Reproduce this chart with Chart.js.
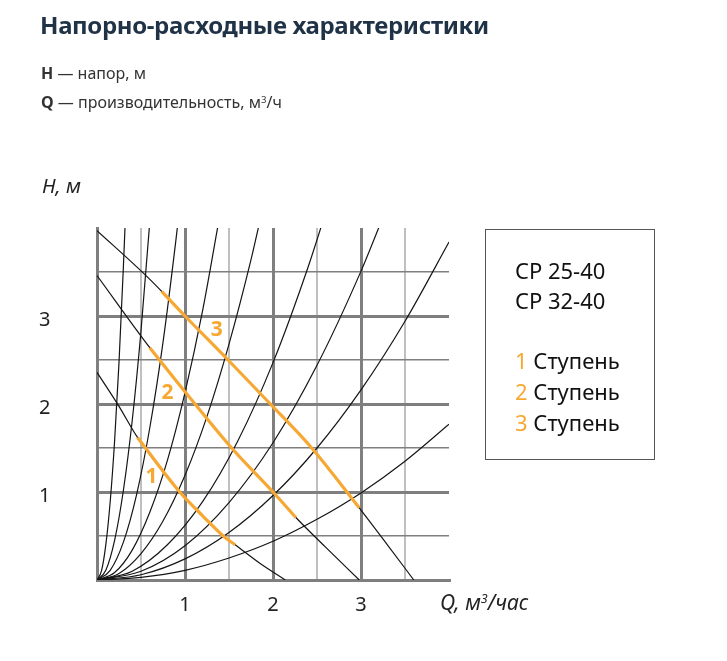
<!DOCTYPE html>
<html><head><meta charset="utf-8">
<script src="https://cdn.jsdelivr.net/npm/chart.js@4.4.1/dist/chart.umd.min.js"></script>
<style>
html,body{margin:0;padding:0;background:#fff;width:727px;height:661px;overflow:hidden;font-family:"Noto Sans",sans-serif;}
#wrap{position:relative;width:727px;height:661px;}
#c{position:absolute;left:0;top:0;width:727px;height:661px;}
.t{position:absolute;white-space:nowrap;line-height:1;}
sup{font-size:60%;vertical-align:0;position:relative;top:-0.55em;}
#legend{position:absolute;left:485px;top:229px;width:168px;height:229px;border:1.5px solid #555;}
#legend .r{position:absolute;left:29px;font-size:22px;color:#111;line-height:1;}
#legend .o{color:#F7A832;}
</style></head><body>
<div id="wrap">
<canvas id="c" width="727" height="661"></canvas>
<div class="t" style="left:40px;top:13px;font-weight:700;font-size:24px;letter-spacing:-0.35px;color:#1f3246;">Напорно-расходные характеристики</div>
<div class="t" style="left:41px;top:65px;font-size:16px;color:#333;"><b>H</b> — напор, м</div>
<div class="t" style="left:41px;top:94px;font-size:16px;color:#333;"><b>Q</b> — производительность, м<sup>3</sup>/ч</div>
<div class="t" style="left:42px;top:176px;font-size:20px;font-style:italic;color:#222;">H, м</div>
<div class="t" style="left:440px;top:592px;font-size:21px;font-style:italic;color:#222;">Q, м<sup>3</sup>/час</div>
<div id="legend">
  <div class="r" style="top:29px;">CP 25-40</div>
  <div class="r" style="top:59px;">CP 32-40</div>
  <div class="r" style="top:119px;"><span class="o">1</span> Ступень</div>
  <div class="r" style="top:150px;"><span class="o">2</span> Ступень</div>
  <div class="r" style="top:181px;"><span class="o">3</span> Ступень</div>
</div>
</div>
<script>
// ---- data (Q in m3/h, H in m) ----
const qTickLabels = [1, 2, 3];
const hTickLabels = [1, 2, 3];
const stageNames = ['1', '2', '3'];

// system (pipe) curves from origin
const sysA = [[0,0],[0.05,0.10],[0.1,0.40],[0.15,0.89],[0.2,1.58],[0.25,2.47],[0.3,3.56],[0.33,4.30]];
const sysB = [[0,0],[0.1,0.11],[0.2,0.45],[0.3,1.02],[0.4,1.81],[0.5,2.83],[0.6,4.07],[0.63,4.48]];
const sysC = [[0,0],[0.15,0.11],[0.3,0.43],[0.45,0.97],[0.6,1.73],[0.75,2.70],[0.9,3.89],[0.95,4.33]];
const sysD = [[0,0],[0.2,0.085],[0.4,0.34],[0.6,0.77],[0.8,1.36],[1.0,2.13],[1.2,3.06],[1.4,4.17]];
const sysE = [[0,0],[0.25,0.074],[0.5,0.30],[0.75,0.67],[1.0,1.19],[1.25,1.86],[1.5,2.68],[1.75,3.64],[1.9,4.30]];
const sysF = [[0,0],[0.4,0.10],[0.8,0.40],[1.2,0.89],[1.6,1.58],[2.0,2.47],[2.4,3.56],[2.65,4.34]];
const sysG = [[0,0],[0.5,0.10],[1.0,0.39],[1.5,0.88],[2.0,1.56],[2.5,2.44],[3.0,3.51],[3.3,4.25]];
const sysH = [[0,0],[0.5,0.06],[1.0,0.24],[1.5,0.54],[2.0,0.96],[2.5,1.50],[3.0,2.16],[3.5,2.94],[4.0,3.84]];
const sysI = [[0,0],[0.5,0.03],[1.0,0.11],[1.5,0.25],[2.0,0.44],[2.5,0.69],[3.0,0.99],[3.5,1.35],[4.0,1.77]];

// pump curves (full, black) and their working ranges (orange)
const pump1 = [[0,2.36],[0.24,1.99],[0.46,1.62],[0.94,1.0],[1.2,0.73],[1.435,0.50],[1.57,0.40],[1.85,0.19],[2.14,0]];
const pump2 = [[0,3.46],[0.6,2.64],[1.0,2.14],[1.53,1.50],[2.0,1.0],[2.26,0.71],[2.6,0.37],[2.98,0]];
const pump3 = [[0,3.97],[0.545,3.47],[0.735,3.28],[1.0,3.0],[1.49,2.5],[1.97,2.0],[2.44,1.5],[2.98,0.82],[3.3,0.40],[3.6,0]];
const stage1 = [[0.46,1.62],[0.94,1.0],[1.2,0.73],[1.435,0.50],[1.57,0.40]];
const stage2 = [[0.6,2.64],[1.0,2.14],[1.53,1.50],[2.0,1.0],[2.26,0.71]];
const stage3 = [[0.735,3.28],[1.0,3.0],[1.49,2.5],[1.97,2.0],[2.44,1.5],[2.98,0.82]];

// label anchor points (data coordinates) for stage numbers
const stageLabelQ = [0.62, 0.80, 1.36];
const stageLabelH = [1.17, 2.12, 2.84];

// ---- chart ----
const toXY = a => a.map(p => ({x: p[0], y: p[1]}));
const BLACK = '#151515', ORANGE = '#F7A832', GRID = '#7f7f7f', GRID_LIGHT = '#bfbfbf';
function blackSet(d){ return {data: toXY(d), borderColor: BLACK, borderWidth: 1.2, pointRadius: 0, cubicInterpolationMode: 'monotone', order: 2, fill: false}; }
function orangeSet(d){ return {data: toXY(d), borderColor: ORANGE, borderWidth: 3.2, pointRadius: 0, cubicInterpolationMode: 'monotone', order: 1, fill: false, borderCapStyle: 'butt'}; }

const datasets = [sysA, sysB, sysC, sysD, sysE, sysF, sysG, sysH, sysI, pump1, pump2, pump3].map(blackSet)
  .concat([stage1, stage2, stage3].map(orangeSet));

const stageLabelPlugin = {
  id: 'stageLabels',
  afterDatasetsDraw(chart){
    const ctx = chart.ctx, xs = chart.scales.x, ys = chart.scales.y;
    ctx.save();
    ctx.fillStyle = ORANGE;
    ctx.font = 'bold 21px "Noto Sans"';
    ctx.textAlign = 'center';
    ctx.textBaseline = 'middle';
    stageNames.forEach((s, i) => ctx.fillText(s, xs.getPixelForValue(stageLabelQ[i]), ys.getPixelForValue(stageLabelH[i])));
    ctx.restore();
  }
};

const isInt = v => Math.abs(v - Math.round(v)) < 1e-6;

new Chart(document.getElementById('c'), {
  type: 'scatter',
  data: {datasets},
  plugins: [stageLabelPlugin],
  options: {
    responsive: false,
    animation: false,
    showLine: true,
    layout: {padding: {left: 39, top: 228, right: 278, bottom: 0}},
    plugins: {legend: {display: false}, tooltip: {enabled: false}},
    scales: {
      x: {
        type: 'linear', min: 0, max: 4,
        afterFit: s => { s.height = 81; },
        ticks: {
          stepSize: 0.5, padding: 13, color: '#222',
          font: {family: 'Noto Sans', size: 20},
          maxRotation: 0, autoSkip: false,
          callback: v => qTickLabels.includes(v) ? String(v) : ''
        },
        grid: {
          drawTicks: false,
          color: c => (c.tick.value >= 4 ? 'rgba(0,0,0,0)' : (isInt(c.tick.value) ? GRID : GRID_LIGHT)),
          lineWidth: c => (isInt(c.tick.value) ? 3 : 2)
        },
        border: {display: true, color: GRID, width: 3}
      },
      y: {
        type: 'linear', min: 0, max: 4,
        afterFit: s => { s.width = 58; },
        ticks: {
          stepSize: 0.5, padding: 0, color: '#222', crossAlign: 'far',
          font: {family: 'Noto Sans', size: 20},
          labelOffset: 4,
          autoSkip: false,
          callback: v => hTickLabels.includes(v) ? String(v) : ''
        },
        grid: {
          drawTicks: false,
          color: c => (c.tick.value >= 4 ? 'rgba(0,0,0,0)' : GRID),
          lineWidth: c => (isInt(c.tick.value) ? 3 : 1.4)
        },
        border: {display: true, color: GRID, width: 3}
      }
    }
  }
});
</script>
</body></html>
